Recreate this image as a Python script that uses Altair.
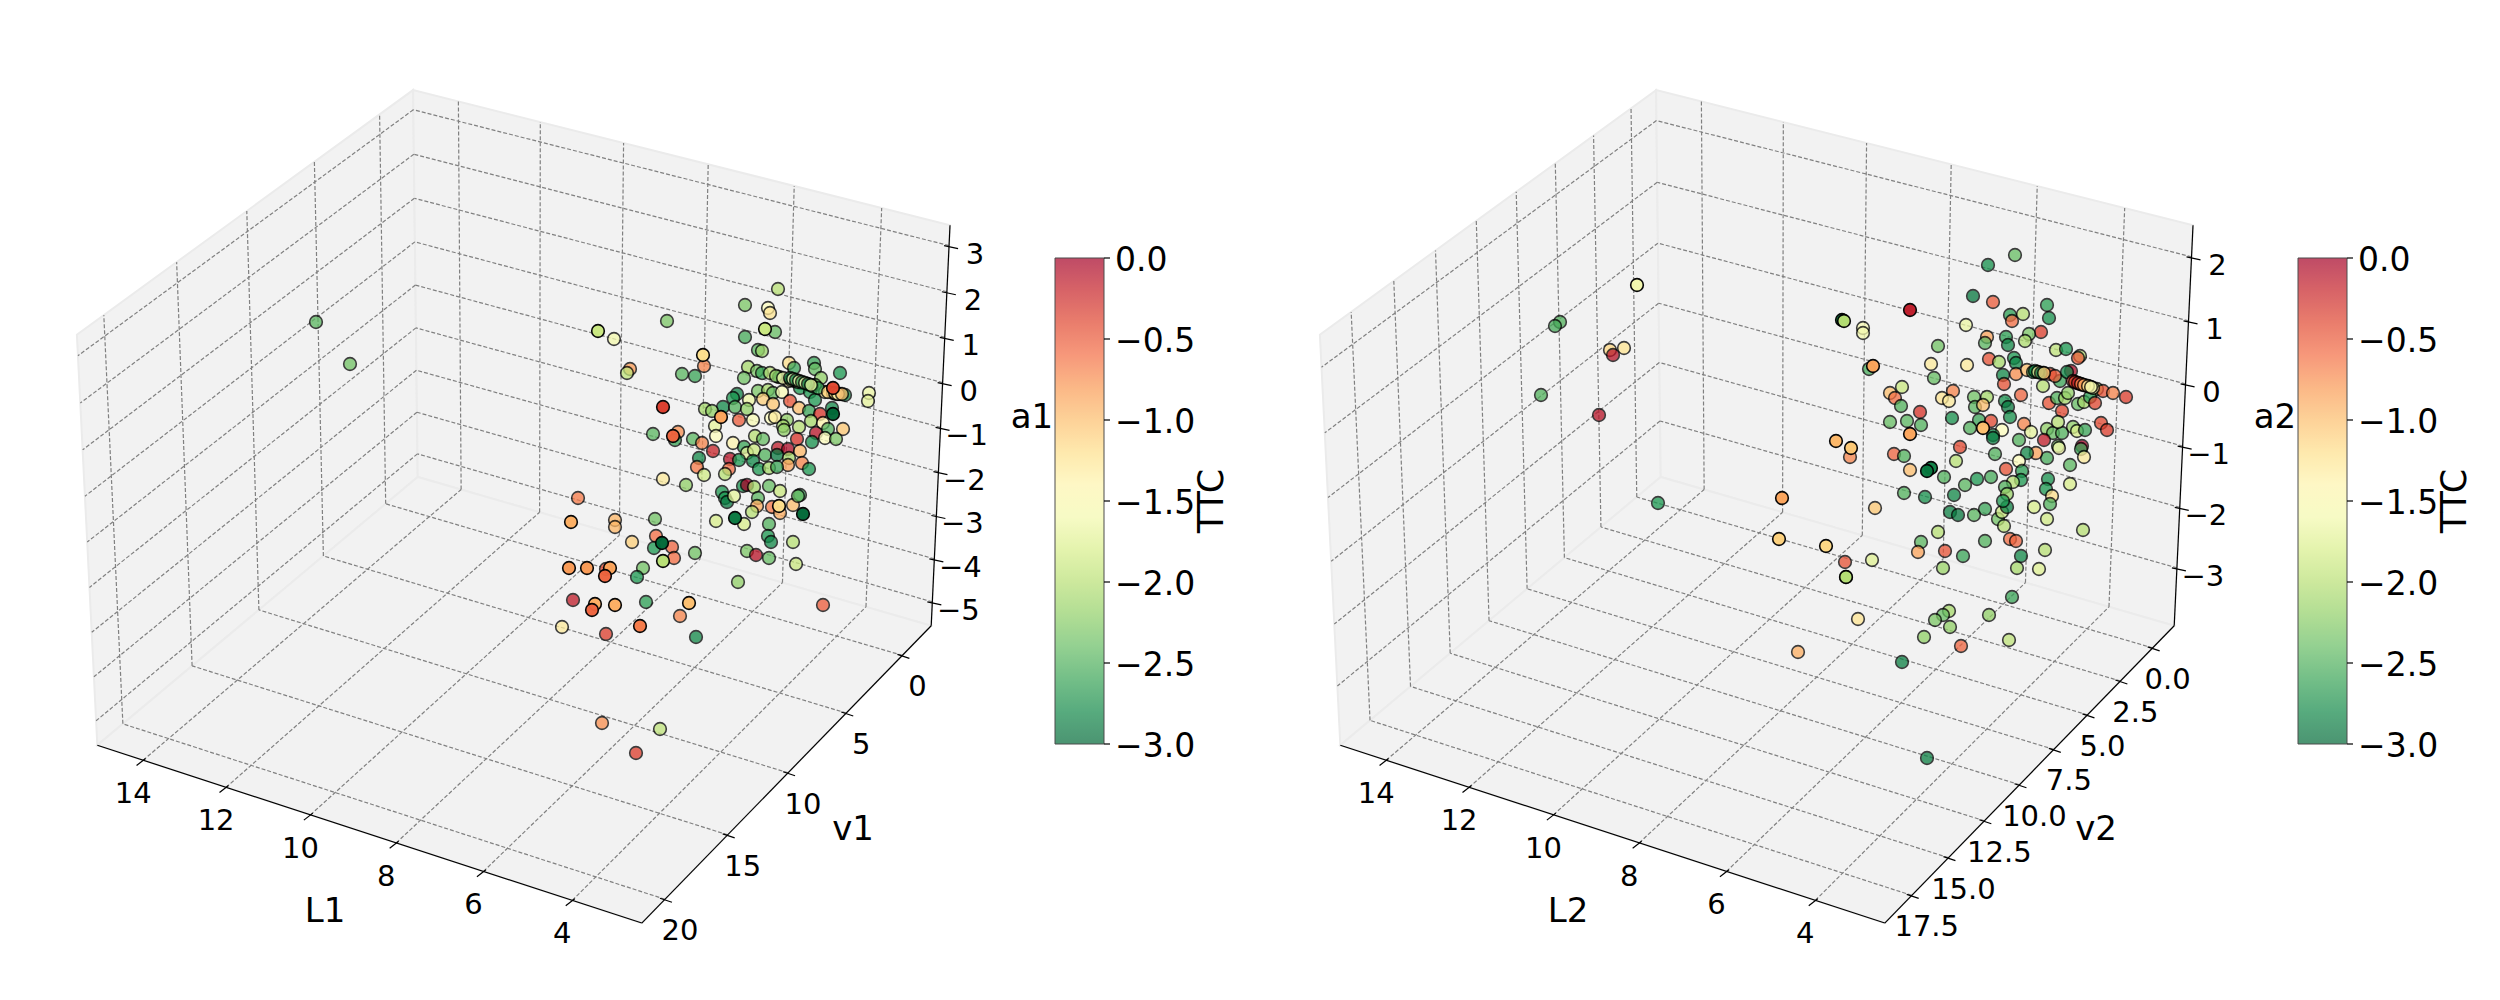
import numpy as np
import pandas as pd
import altair as alt

# positions in the view plane of each 3D panel, with TTC from the colour
view1_x = [778,745,768,770,765,775,745,758,762,667,598,614,630,627,703,704,682,695,663,673,
           678,675,653,693,702,713,699,697,704,663,686,578,571,615,615,655,632,656,662,654,
           672,674,663,695,748,757,762,770,744,779,789,794,814,815,821,789,795,802,807,815,
           800,810,833,840,825,833,840,845,869,868,737,733,758,768,773,782,763,749,723,705,
           712,735,747,721,739,753,773,790,799,815,809,820,832,833,771,775,811,823,787,783,
           784,799,843,828,816,797,825,836,812,715,716,733,755,763,744,747,754,778,788,800,
           765,777,789,802,788,809,730,739,753,729,725,759,769,777,722,725,727,734,743,747,
           754,769,780,758,757,752,735,744,716,772,779,780,793,800,798,803,769,768,771,793,
           747,756,769,796,569,587,610,606,605,643,637,738,823,573,595,592,615,646,689,680,
           562,606,640,696,602,660,636,316,350,776,783,791,798,812,818,828,836,
           790,793,796,799,802,805,808,811,835,838,842]
view1_y = [289,305,308,313,329,332,337,350,351,321,331,339,369,373,355,366,374,376,407,436,
           432,440,434,439,443,451,458,467,475,479,485,498,522,520,527,519,542,536,543,548,
           547,558,561,553,367,371,373,373,378,377,363,368,363,369,378,381,381,383,384,385,
           388,392,388,373,392,393,394,395,393,401,394,398,391,390,393,392,399,400,407,409,
           411,407,409,417,420,420,404,401,408,400,411,414,408,414,418,417,421,423,420,426,
           430,427,429,429,433,439,438,439,442,426,436,443,436,439,447,453,450,448,449,451,
           455,455,458,463,465,469,459,460,461,469,474,469,468,467,492,498,502,496,486,485,
           487,486,491,498,506,512,518,524,521,507,506,513,505,495,496,514,524,536,542,542,
           551,555,558,564,568,568,568,569,576,568,577,582,605,600,604,610,605,602,603,616,
           627,634,626,637,723,729,753,322,364,376,378,380,382,386,388,392,394,
           378,379,380,381,382,383,384,385,393,394,394]
view1_ttc = [-2.0,-2.3,-1.5,-1.25,-1.9,-2.4,-2.55,-2.45,-2.15,-2.3,-1.9,-1.6,-0.8,-1.95,-1.2,-0.7,-2.45,-2.6,-0.35,-0.55,
             -0.75,-2.6,-2.45,-2.45,-0.7,-0.2,-2.8,-0.65,-1.85,-1.3,-2.2,-0.65,-0.9,-0.95,-0.95,-2.35,-1.1,-0.6,-3.0,-2.7,
             -0.55,-0.6,-2.0,-2.35,-2.1,-2.3,-2.6,-2.0,-2.35,-2.8,-1.2,-2.6,-2.6,-2.4,-2.2,-1.4,-1.6,-1.4,-1.3,-2.4,
             -2.7,-2.7,-0.4,-2.7,-1.3,-1.2,-1.5,-2.8,-1.65,-1.7,-2.85,-2.7,-2.3,-2.1,-2.4,-1.55,-1.1,-1.65,-2.8,-2.1,
             -2.2,-2.5,-2.2,-0.85,-0.5,-1.55,-1.05,-0.45,-1.0,-2.7,-2.6,-0.3,-2.8,-3.0,-1.5,-1.3,-2.1,-1.4,-2.2,-2.1,
             -2.2,-2.0,-1.05,-2.5,-0.1,-0.3,-1.5,-2.3,-2.75,-1.7,-1.5,-1.4,-2.0,-2.4,-2.6,-1.7,-1.9,-0.15,-0.05,-0.95,
             -2.5,-2.9,-2.1,-0.7,-0.85,-2.7,-0.1,-2.7,-2.8,-0.6,-2.0,-2.7,-2.1,-2.6,-2.7,-2.7,-2.9,-1.7,-2.75,0.0,
             -2.1,-2.4,-1.9,-2.45,-0.9,-2.0,-2.9,-1.8,-1.8,-0.65,-1.2,-0.9,-1.0,-2.6,-2.4,-3.0,-2.5,-2.7,-2.8,-2.0,
             -2.3,-0.1,-2.4,-1.9,-0.8,-0.8,-0.85,-0.4,-0.55,-2.35,-2.7,-2.2,-0.5,-0.15,-0.9,-0.55,-0.9,-2.65,-1.0,-0.7,
             -1.3,-0.35,-0.65,-2.8,-0.75,-1.95,-0.35,-2.45,-2.35,-2.2,-1.6,-2.4,-1.3,-1.7,-2.6,-1.1,-2.0,
             -2.8,-1.5,-2.7,-1.4,-2.6,-1.6,-2.9,-1.7,-1.2,-1.4,-1.0]
# points nearest the viewer, they are depth-shaded less
view1_front = [4,10,14,18,19,32,38,42,62,83,93,146,150,155,164,165,166,168,174,175,176,178,182]

view2_x = [2015,1988,1973,1993,1910,1842,1844,1863,1863,1966,2047,2049,2010,2023,2012,2041,2029,2025,2006,1987,
           1985,2008,1938,2056,2066,2080,2078,1931,1967,1934,1989,1999,2014,2016,2003,2016,2027,2037,2043,2050,
           2043,2060,2071,2067,2004,2077,2083,2090,2097,2103,2113,2126,1902,1890,1895,1901,1942,1953,1949,1974,
           1975,1987,1983,2021,2049,2057,2065,2068,2062,2078,2084,2090,2095,2005,2008,2010,1920,1890,1907,1921,
           1910,1952,1979,1991,1970,1983,2002,1993,1993,2024,2031,2019,2047,2053,2062,2058,2073,2077,2085,2101,
           2107,2044,2058,2059,2082,2081,2084,2047,2036,2027,2019,2070,1836,1851,1850,1894,1904,1960,1956,1995,
           1910,1931,1927,1944,2006,2022,2021,2013,1991,1977,1965,2005,2007,2048,2046,2070,2052,2050,2034,2047,
           1904,1925,1954,1875,1950,1958,1974,1985,1998,2002,2007,2003,2004,1938,2083,
           1637,1560,1555,1624,1610,1613,1541,1599,1658,1782,1873,1869,
           1779,1826,1845,1846,1846,1872,1921,1918,1945,1963,1943,1985,2010,2016,2021,2017,2045,2039,2012,1989,
           1949,1943,1935,1950,1924,1961,2009,1902,1858,1798,1927,
           2033,2055,2073,2080,2087,2093,
           2035,2038,2041,2044,2075,2078,2081,2084,2088,2091]
view2_y = [255,265,296,302,310,320,321,328,333,325,305,318,315,314,321,332,334,341,337,337,
           343,345,346,350,349,356,358,364,365,378,359,362,358,363,375,374,370,372,373,374,
           386,381,371,372,384,383,385,387,389,391,393,397,387,393,398,406,398,391,401,397,
           407,397,405,395,403,398,398,393,411,404,402,397,403,401,407,417,412,422,421,425,
           434,418,420,421,428,428,430,435,438,424,432,440,429,433,433,422,427,431,430,423,
           430,440,446,448,446,449,457,458,453,453,461,465,441,448,457,454,456,447,461,454,
           470,468,471,477,469,471,480,482,477,479,485,487,494,479,489,484,496,504,507,519,
           493,497,495,508,512,515,515,509,519,512,507,501,526,532,530,
           285,322,326,348,350,355,395,415,503,498,366,369,
           539,546,562,577,577,560,542,552,551,556,568,541,539,541,556,568,550,569,597,615,
           611,615,620,627,637,646,640,662,619,652,758,
           372,376,381,384,386,388,
           371,372,373,373,382,383,384,385,386,387]
view2_ttc = [-2.4,-2.75,-2.9,-0.5,-0.15,-2.9,-2.0,-1.55,-1.6,-1.65,-2.65,-2.75,-2.65,-2.0,-0.6,-0.35,-2.3,-2.05,-2.65,-0.85,
             -2.45,-2.8,-2.35,-1.95,-2.7,-2.0,-0.5,-1.3,-1.3,-2.4,-0.45,-2.1,-2.7,-2.8,-2.8,-0.75,-1.0,-2.3,-1.4,-0.35,
             -2.0,-2.6,-0.05,-2.8,-0.45,-0.4,-0.9,-1.7,-2.0,-0.45,-0.7,-0.35,-1.9,-1.0,-0.6,-2.5,-1.25,-0.7,-1.3,-2.35,
             -2.45,-2.1,-1.0,-0.55,-0.45,-2.5,-2.1,-2.2,-0.4,-2.4,-2.1,-2.65,-0.4,-2.75,-2.9,-2.75,-0.3,-2.4,-2.45,-2.5,
             -0.85,-2.75,-2.6,-0.4,-2.5,-1.0,-1.5,-2.8,-2.85,-0.7,-1.7,-2.5,-2.2,-2.4,-2.5,-2.0,-2.2,-1.8,-2.6,-0.4,
             -0.35,-0.15,-2.3,-1.6,0.0,-2.6,-1.3,-2.55,-0.85,-2.8,-1.5,-2.45,-0.95,-1.05,-0.7,-0.55,-2.5,-0.4,-2.0,-2.5,
             -1.0,-2.85,-2.9,-2.5,-0.45,-2.65,-2.7,-2.0,-2.55,-2.7,-2.45,-2.5,-2.15,-2.75,-2.7,-1.8,-1.2,-2.5,-1.8,-1.85,
             -2.5,-2.75,-2.8,-1.05,-2.85,-2.9,-2.45,-2.6,-2.35,-1.9,-2.85,-2.7,-2.0,-2.0,-2.0,
             -1.6,-2.5,-2.55,-1.25,-1.15,-0.1,-2.5,-0.1,-2.7,-0.85,-0.85,-2.55,
             -1.1,-1.15,-0.45,-2.7,-2.0,-1.75,-2.45,-0.85,-0.45,-2.6,-2.15,-2.5,-0.6,-0.55,-2.8,-2.1,-2.0,-1.75,-2.6,-2.2,
             -2.1,-2.4,-2.3,-2.2,-2.2,-0.55,-1.95,-2.85,-1.25,-0.9,-2.85,
             -2.7,-0.5,-0.3,-0.8,-1.2,-1.5,
             -2.8,-1.3,-2.9,-1.1,-0.4,-0.2,-0.7,-0.9,-1.3,-1.6]
view2_front = [4,5,6,80,85,112,113,121,122,155,164,165,167,168,171]

# ticks and limits of each axis
l_ticks = [14, 12, 10, 8, 6, 4]
l_lims = (2.46, 15.12)
v1_ticks = [0, 5, 10, 15, 20]
v1_lims = (-2.64, 21.8)
a1_ticks = [3, 2, 1, 0, -1, -2, -3, -4, -5]
a1_lims = (-5.56, 3.44)
v2_ticks = [0.0, 2.5, 5.0, 7.5, 10.0, 12.5, 15.0, 17.5]
v2_lims = (-1.7, 19.3)
a2_ticks = [2, 1, 0, -1, -2, -3]
a2_lims = (-3.97, 2.49)
cbar_ticks = [0.0, -0.5, -1.0, -1.5, -2.0, -2.5, -3.0]

# RdYlGn_r anchors
ttc_domain = [-3.0, -2.7, -2.4, -2.1, -1.8, -1.5, -1.2, -0.9, -0.6, -0.3, 0.0]
ttc_colors = ["#006837", "#1a9850", "#66bd63", "#a6d96a", "#d9ef8b", "#ffffbf",
              "#fee08b", "#fdae61", "#f46d43", "#d73027", "#a50026"]

# box corners of the left panel in the picture, by (L, v, a) corner of the unit cube
corners = [((0, 0, 0), (418, 477)), ((0, 1, 0), (97, 745)), ((1, 1, 0), (642, 923)),
           ((1, 0, 0), (931, 626)), ((0, 0, 1), (413, 90)), ((0, 1, 1), (77, 335)),
           ((1, 0, 1), (950, 225))]
panel_shift = 1243
cbar_left, cbar_top, cbar_w, cbar_len = 1055, 258, 49, 486

x_scale = alt.Scale(domain=[8, 2492], nice=False, zero=False)
y_scale = alt.Scale(domain=[992, 8], nice=False, zero=False)
X = alt.X("x:Q", axis=None, scale=x_scale)
Y = alt.Y("y:Q", axis=None, scale=y_scale)


def fit_camera(dx):
    rows = []
    for (u, v, w), (px, py) in corners:
        px += dx
        rows.append([u, v, w, 1, 0, 0, 0, 0, -px * u, -px * v, -px * w, -px])
        rows.append([0, 0, 0, 0, u, v, w, 1, -py * u, -py * v, -py * w, -py])
    return np.linalg.svd(np.array(rows, float))[2][-1].reshape(3, 4)


def text_layer(rows, size, **kw):
    return alt.Chart(pd.DataFrame(rows)).mark_text(
        font="DejaVu Sans", fontSize=size, color="black", baseline="middle", **kw
    ).encode(x=X, y=Y, text="label:N")


def make_panel(dx, xs, ys, ttc, front, v_ticks, v_lims, a_ticks, a_lims, names, v_fmt):
    cam = fit_camera(dx)

    def proj(u, v, w):
        p = cam @ np.array([u, v, w, 1.0])
        return p[0] / p[2], p[1] / p[2]

    def segs(a, b):
        (x, y), (x2, y2) = proj(*a), proj(*b)
        return {"x": x, "y": y, "x2": x2, "y2": y2}

    # panes
    panes = []
    for i, quad in enumerate([[(0, 0, 0), (0, 1, 0), (0, 1, 1), (0, 0, 1)],
                              [(0, 0, 0), (1, 0, 0), (1, 0, 1), (0, 0, 1)],
                              [(0, 0, 0), (0, 1, 0), (1, 1, 0), (1, 0, 0)]]):
        for j, c in enumerate(quad):
            x, y = proj(*c)
            panes.append({"pane": i, "seq": j, "x": x, "y": y})
    pane_layer = alt.Chart(pd.DataFrame(panes)).mark_line(
        interpolate="linear-closed", fill="#f2f2f2", stroke="#ebebeb", strokeWidth=2
    ).encode(x=X, y=Y, detail="pane:N", order="seq:Q")

    grid, ticks, labels = [], [], []
    for t in l_ticks:
        u = (l_lims[1] - t) / (l_lims[1] - l_lims[0])
        grid += [segs((u, 1, 0), (u, 0, 0)), segs((u, 0, 0), (u, 0, 1))]
        x, y = proj(u, 1, 0)
        ticks.append({"x": x + 2.4, "y": y - 1.7, "x2": x - 6.6, "y2": y + 5.3})
        labels.append({"x": x - 10, "y": y + 34, "label": str(t)})
    for t in v_ticks:
        v = (t - v_lims[0]) / (v_lims[1] - v_lims[0])
        grid += [segs((1, v, 0), (0, v, 0)), segs((0, v, 0), (0, v, 1))]
        x, y = proj(1, v, 0)
        ticks.append({"x": x - 5, "y": y - 1, "x2": x + 7, "y2": y + 3})
        labels.append({"x": x + 15, "y": y + 32, "label": v_fmt.format(t)})
    for t in a_ticks:
        w = (t - a_lims[0]) / (a_lims[1] - a_lims[0])
        grid += [segs((1, 0, w), (0, 0, w)), segs((0, 0, w), (0, 1, w))]
        x, y = proj(1, 0, w)
        ticks.append({"x": x - 5, "y": y, "x2": x + 9, "y2": y + 3})
        labels.append({"x": x + 26, "y": y + 9, "label": str(t).replace("-", "\u2212")})

    grid_layer = alt.Chart(pd.DataFrame(grid)).mark_rule(
        color="#808080", strokeDash=[4, 2], strokeWidth=1.2
    ).encode(x=X, y=Y, x2="x2:Q", y2="y2:Q")

    edges = [segs((0, 1, 0), (1, 1, 0)), segs((1, 1, 0), (1, 0, 0)), segs((1, 0, 0), (1, 0, 1))]
    edge_layer = alt.Chart(pd.DataFrame(edges + ticks)).mark_rule(
        color="black", strokeWidth=1.2
    ).encode(x=X, y=Y, x2="x2:Q", y2="y2:Q")

    # colourbar ticks and their labels
    cb, cb_labels = [], []
    bar_right = cbar_left + cbar_w + dx
    for t in cbar_ticks:
        y = cbar_top + cbar_len * (-t / 3.0)
        cb.append({"x": bar_right, "x2": bar_right + 6, "y": y, "y2": y})
        cb_labels.append({"x": bar_right + 11, "y": y + 3, "label": f"{t:.1f}".replace("-", "\u2212")})
    cb_layer = alt.Chart(pd.DataFrame(cb)).mark_rule(color="black", strokeWidth=1.2).encode(
        x=X, y=Y, x2="x2:Q", y2="y2:Q")

    label_layer = text_layer(labels, 29, align="center")
    cb_label_layer = text_layer(cb_labels, 33, align="left")
    title_layer = text_layer([{"x": 325 + dx, "y": 912, "label": names[0]},
                              {"x": 853 + dx, "y": 830, "label": names[1]},
                              {"x": 1032 + dx, "y": 418, "label": names[2]}], 34, align="center")
    ttc_layer = text_layer([{"x": 1212 + dx, "y": 501, "label": "TTC"}], 35, align="center", angle=270)

    # scatter, its colour scale gives the colourbar
    near = np.zeros(len(xs), dtype=int)
    near[front] = 1
    df = pd.DataFrame({"x": xs, "y": ys, "ttc": ttc, "near": near})
    df["alpha"] = np.where(df["near"] == 1, 0.97, 0.75)
    df = df.sort_values("near", kind="stable")
    points = alt.Chart(df).mark_circle(size=160, stroke="black", strokeWidth=1.6).encode(
        x=X, y=Y,
        opacity=alt.Opacity("alpha:Q", scale=None, legend=None),
        color=alt.Color("ttc:Q", title=None,
                        scale=alt.Scale(domain=ttc_domain, range=ttc_colors),
                        legend=alt.Legend(orient="none", legendX=cbar_left + dx - 8, legendY=cbar_top - 8,
                                          gradientLength=cbar_len, gradientThickness=cbar_w,
                                          gradientOpacity=0.7, gradientStrokeColor="black",
                                          gradientStrokeWidth=1, labelExpr="''", padding=0)),
    )
    return [pane_layer, grid_layer, edge_layer, cb_layer, label_layer, cb_label_layer,
            title_layer, ttc_layer, points]


left = make_panel(0, view1_x, view1_y, view1_ttc, view1_front, v1_ticks, v1_lims, a1_ticks, a1_lims,
                  ["L1", "v1", "a1"], "{:g}")
right = make_panel(panel_shift, view2_x, view2_y, view2_ttc, view2_front, v2_ticks, v2_lims, a2_ticks, a2_lims,
                   ["L2", "v2", "a2"], "{:.1f}")

chart = (
    alt.layer(*left, *right)
    .resolve_scale(color="independent")
    .properties(width=2484, height=984, padding=0, autosize=alt.AutoSizeParams(type="none"))
    .configure_view(stroke=None)
)
chart.save("out.html", embed_options={"renderer": "svg", "actions": False})
